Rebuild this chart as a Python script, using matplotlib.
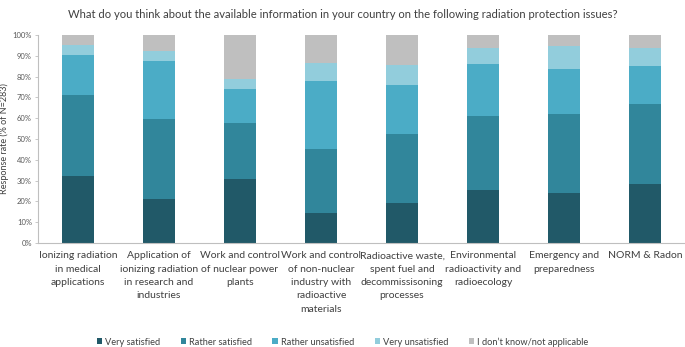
import matplotlib
matplotlib.use("Agg")
import matplotlib.pyplot as plt
import numpy as np

plt.rcParams['font.family'] = ['Lato', 'DejaVu Sans']

categories = [
    "Ionizing radiation\nin medical\napplications",
    "Application of\nionizing radiation\nin research and\nindustries",
    "Work and control\nof nuclear power\nplants",
    "Work and control\nof non-nuclear\nindustry with\nradioactive\nmaterials",
    "Radioactive waste,\nspent fuel and\ndecommissisoning\nprocesses",
    "Environmental\nradioactivity and\nradioecology",
    "Emergency and\npreparedness",
    "NORM & Radon",
]
series_names = ["Very satisfied", "Rather satisfied", "Rather unsatisfied",
                "Very unsatisfied", "I don’t know/not applicable"]
very_satisfied = [32.0, 21.0, 31.0, 14.6, 19.0, 25.6, 24.0, 28.4]
rather_satisfied = [39.2, 38.8, 26.6, 30.6, 33.6, 35.5, 37.8, 38.6]
rather_unsatisfied = [19.2, 27.8, 16.3, 32.5, 23.5, 25.1, 22.0, 18.3]
very_unsatisfied = [4.8, 4.7, 4.9, 9.0, 9.6, 7.7, 10.9, 8.3]
dont_know = [4.8, 7.7, 21.2, 13.3, 14.3, 6.1, 5.3, 6.4]
colors = ["#215968", "#31869B", "#4BACC6", "#92CDDC", "#BFBFBF"]

series = [very_satisfied, rather_satisfied, rather_unsatisfied, very_unsatisfied, dont_know]

fig = plt.figure(figsize=(6.85, 3.47), dpi=100)
ax = fig.add_axes([37.5/685, (347-243)/347, 648/685, 208/347])

x = np.arange(len(categories))
bottom = np.zeros(len(categories))
handles = []
for name, vals, c in zip(series_names, series, colors):
    h = ax.bar(x, vals, bottom=bottom, width=0.4, color=c, label=name)
    handles.append(h)
    bottom += np.array(vals)

ax.set_xlim(-0.5, len(categories) - 0.5)
ax.set_ylim(0, 100)
ax.set_yticks(np.arange(0, 101, 10))
ax.set_yticklabels([f"{v}%" for v in range(0, 101, 10)])
ax.set_xticks(x)
ax.set_xticklabels(categories, fontsize=7.5, color="#404040", linespacing=1.62, va="top")
ax.tick_params(axis='y', labelsize=5.5, colors="#595959", length=2, width=0.6, color="#BFBFBF", pad=2)
ax.tick_params(axis='x', length=0, pad=6)
for s in ["top", "right"]:
    ax.spines[s].set_visible(False)
for s in ["left", "bottom"]:
    ax.spines[s].set_color("#BFBFBF")
    ax.spines[s].set_linewidth(0.8)

ax.set_ylabel("Response rate (% of N=283)", fontsize=6.5, color="#404040")
ax.yaxis.set_label_coords(-28.5/648, 0.5)
fig.text(0.5, 1 - 14/347, "What do you think about the available information in your country on the following radiation protection issues?",
         ha="center", va="center", fontsize=8.1, color="#404040")

fig.legend(handles=handles, labels=series_names, loc="center", bbox_to_anchor=(0.5, 1 - 342/347),
           ncol=5, frameon=False, fontsize=6.7, handlelength=0.6, handleheight=0.6,
           handletextpad=0.3, columnspacing=2.2, labelcolor="#404040")

fig.savefig("out.png", dpi=100)
